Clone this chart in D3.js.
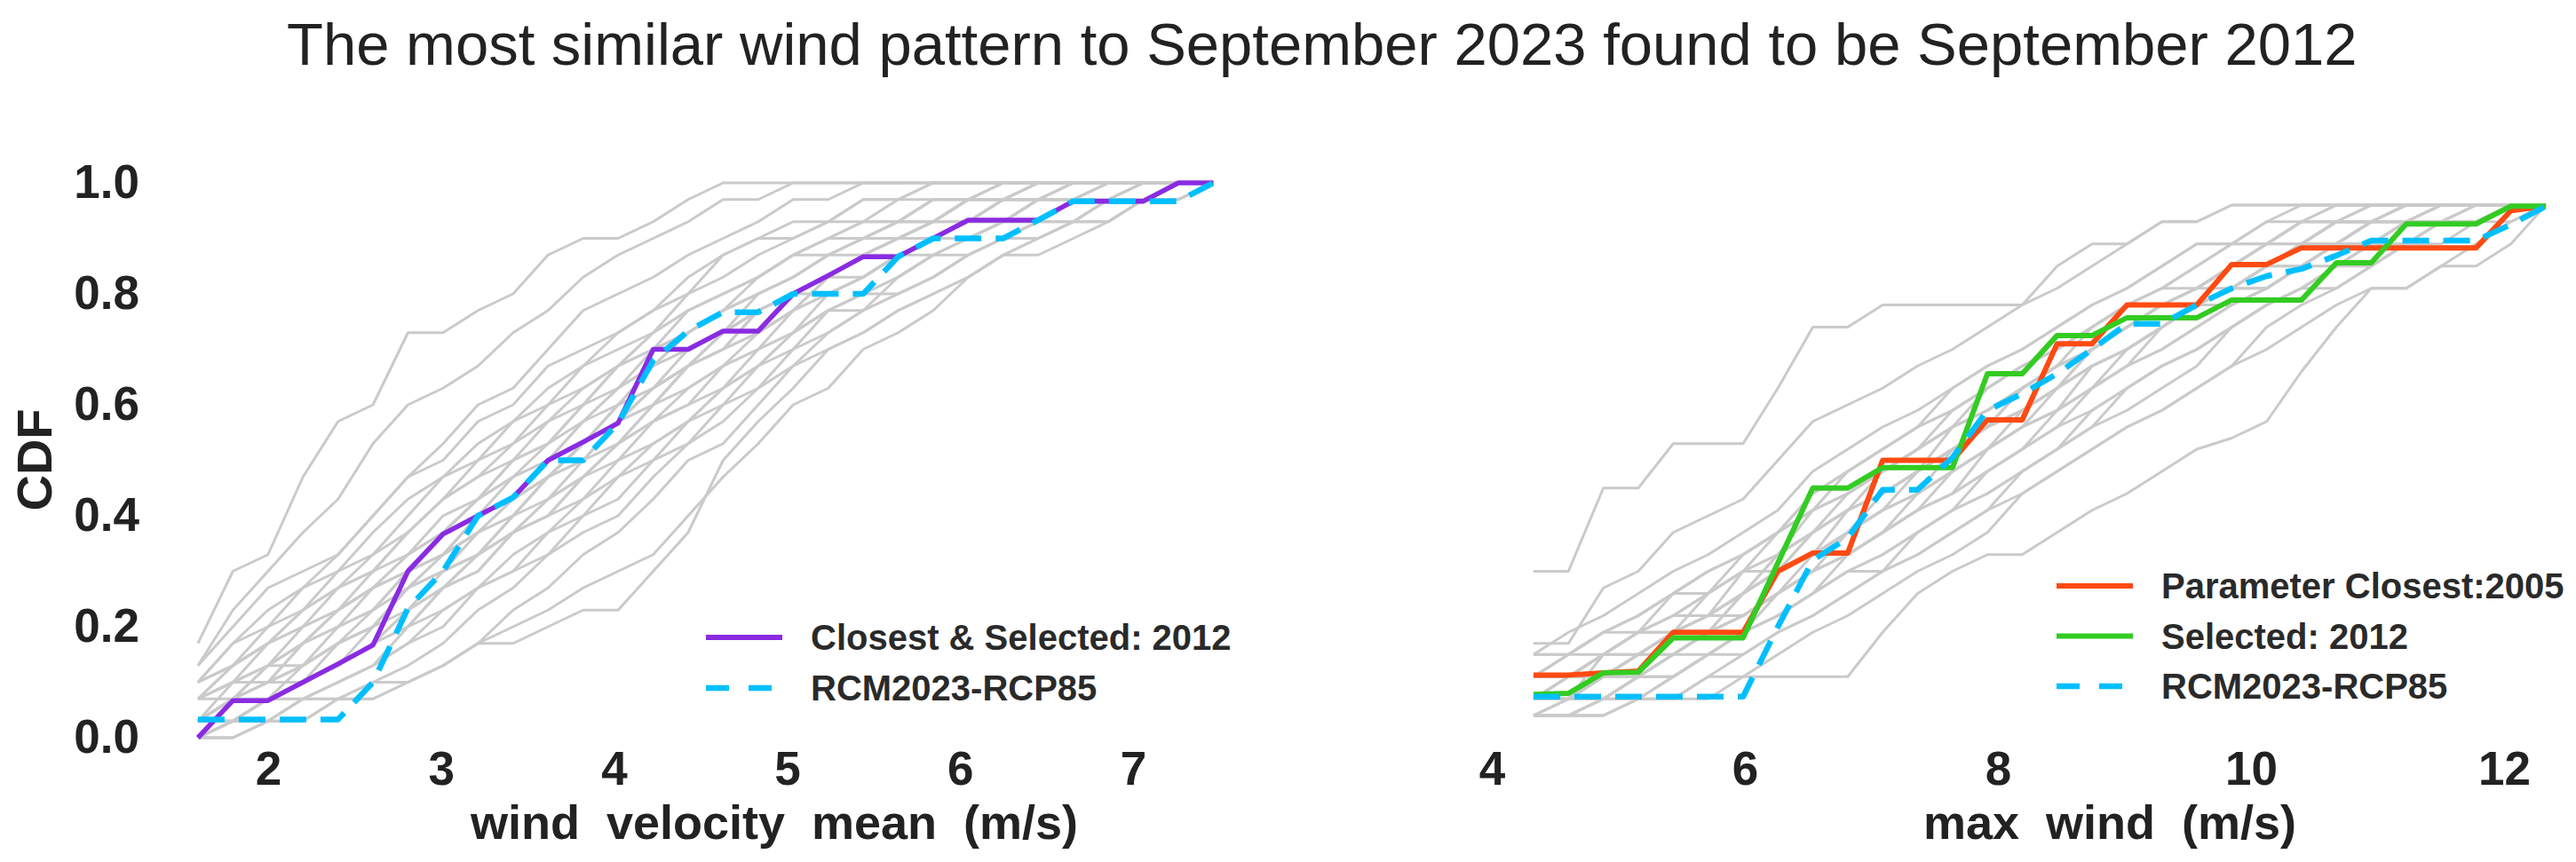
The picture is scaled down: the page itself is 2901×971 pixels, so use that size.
<!DOCTYPE html>
<html>
<head>
<meta charset="utf-8">
<script src="https://cdn.jsdelivr.net/npm/d3@7"></script>
<style>
  html, body { margin: 0; padding: 0; background: #fff; }
  svg text { font-family: "Liberation Sans", Arial, sans-serif; }
</style>
</head>
<body>
<div id="chart"></div>
<script>
const width = 2901;
const height = 971;

const TITLE = 'The most similar wind pattern to September 2023 found to be September 2012';

// x grid each CDF is evaluated on (m/s)
const leftGrid = [1.594, 1.796, 1.999, 2.201, 2.404, 2.606, 2.808, 3.011, 3.213, 3.416,
  3.618, 3.821, 4.023, 4.226, 4.428, 4.630, 4.833, 5.035, 5.238, 5.440,
  5.642, 5.845, 6.047, 6.250, 6.452, 6.655, 6.857, 7.060, 7.262, 7.464];
const rightGrid = [4.330, 4.606, 4.882, 5.158, 5.434, 5.710, 5.986, 6.261, 6.537, 6.813,
  7.089, 7.365, 7.641, 7.917, 8.192, 8.468, 8.744, 9.020, 9.296, 9.572,
  9.848, 10.124, 10.399, 10.675, 10.951, 11.227, 11.503, 11.779, 12.054, 12.330];

const leftTicks = [2, 3, 4, 5, 6, 7];
const rightTicks = [4, 6, 8, 10, 12];
const cdfTicks = [0, 0.2, 0.4, 0.6, 0.8, 1.0];

// highlighted series, left panel
const leftSelected = [0, .067, .067, .10, .133, .167, .30, .367, .40, .433, .50, .533, .567, .70, .70,
  .733, .733, .80, .833, .867, .867, .90, .933, .933, .933, .967, .967, .967, 1, 1];
const leftRcm = [.033, .033, .033, .033, .033, .10, .233, .30, .40, .433, .50, .50, .567, .68, .733,
  .767, .767, .80, .80, .80, .867, .90, .90, .90, .933, .967, .967, .967, .967, 1];

// highlighted series, right panel
const rightParam = [.113, .113, .117, .12, .19, .19, .19, .30, .333, .333, .50, .50, .50, .573, .573,
  .71, .71, .78, .78, .78, .853, .853, .883, .883, .883, .883, .883, .883, .95, .958];
const rightSelected = [.078, .08, .117, .118, .18, .18, .18, .315, .45, .45, .487, .487, .487, .656, .656,
  .725, .725, .757, .757, .757, .789, .789, .789, .856, .856, .926, .926, .926, .958, .958];
const rightRcm = [.074, .074, .074, .074, .074, .074, .074, .20, .32, .36, .447, .447, .505, .59, .62,
  .656, .70, .746, .746, .78, .81, .832, .845, .869, .896, .896, .896, .896, .925, .958];

// other years, left panel (wind velocity mean)
const leftOthers = [
  [.17,.30,.33,.47,.57,.60,.73,.73,.77,.80,.87,.90,.90,.93,.97,1,1,1,1,1,1,1,1,1,1,1,1,1,1,1],
  [.13,.23,.30,.37,.43,.53,.60,.63,.67,.73,.77,.83,.87,.90,.93,.97,.97,1,1,1,1,1,1,1,1,1,1,1,1,1],
  [.10,.17,.23,.27,.33,.40,.47,.53,.60,.63,.70,.77,.80,.83,.87,.90,.93,.97,.97,1,1,1,1,1,1,1,1,1,1,1],
  [.07,.13,.17,.23,.30,.33,.40,.47,.50,.57,.63,.67,.73,.77,.80,.87,.90,.90,.93,.97,.97,1,1,1,1,1,1,1,1,1],
  [.10,.13,.20,.23,.27,.30,.37,.43,.47,.53,.60,.63,.67,.73,.77,.80,.83,.87,.90,.93,.93,.97,.97,1,1,1,1,1,1,1],
  [.03,.10,.13,.17,.23,.27,.33,.40,.43,.50,.53,.60,.67,.70,.73,.77,.83,.87,.87,.90,.93,.93,.97,.97,1,1,1,1,1,1],
  [.07,.10,.10,.17,.20,.27,.30,.33,.40,.47,.50,.57,.63,.67,.73,.77,.80,.83,.87,.90,.90,.93,.97,.97,.97,1,1,1,1,1],
  [.03,.07,.10,.13,.17,.23,.30,.37,.40,.43,.50,.53,.60,.63,.70,.73,.77,.80,.83,.87,.90,.93,.93,.97,.97,.97,1,1,1,1],
  [.03,.03,.07,.10,.17,.20,.23,.30,.37,.40,.47,.53,.57,.63,.67,.70,.77,.80,.80,.83,.87,.90,.93,.93,.97,.97,.97,1,1,1],
  [0,.03,.07,.10,.13,.17,.20,.27,.33,.37,.43,.47,.53,.60,.63,.67,.70,.77,.80,.83,.87,.87,.90,.93,.93,.97,.97,.97,1,1],
  [.07,.10,.13,.13,.17,.20,.27,.30,.33,.37,.40,.43,.47,.53,.57,.63,.67,.73,.77,.80,.83,.87,.90,.93,.93,.97,.97,1,1,1],
  [0,.03,.03,.07,.10,.13,.17,.23,.27,.33,.37,.43,.50,.53,.57,.63,.67,.70,.77,.80,.80,.83,.87,.90,.93,.93,.97,.97,1,1],
  [.03,.03,.07,.07,.10,.13,.20,.23,.27,.30,.37,.40,.47,.50,.57,.60,.67,.73,.77,.77,.83,.87,.87,.90,.93,.97,.97,.97,.97,1],
  [0,0,.03,.07,.07,.10,.13,.17,.23,.27,.33,.37,.40,.47,.53,.57,.63,.70,.73,.77,.80,.83,.87,.90,.90,.93,.97,.97,1,1],
  [0,.03,.03,.03,.07,.10,.10,.13,.17,.23,.27,.33,.37,.43,.50,.53,.60,.67,.70,.73,.77,.80,.83,.87,.90,.93,.93,.97,.97,1],
  [0,0,.03,.03,.07,.07,.10,.13,.17,.20,.23,.27,.30,.33,.40,.47,.53,.60,.63,.70,.73,.77,.83,.87,.87,.90,.93,.97,.97,1],
  [0,0,.03,.07,.07,.07,.10,.13,.17,.17,.20,.23,.23,.30,.37,.50,.57,.63,.70,.73,.77,.80,.83,.87,.90,.93,.93,.97,.97,1],
  [.07,.13,.17,.20,.27,.33,.37,.43,.50,.53,.57,.63,.67,.73,.77,.80,.83,.87,.90,.90,.93,.93,.97,.97,1,1,1,1,1,1],
  [.10,.17,.20,.27,.30,.37,.43,.47,.53,.57,.60,.67,.70,.73,.80,.83,.87,.90,.93,.93,.97,.97,.97,1,1,1,1,1,1,1],
  [.03,.07,.13,.20,.23,.27,.30,.37,.43,.47,.53,.57,.63,.70,.73,.77,.80,.83,.87,.90,.93,.97,.97,.97,1,1,1,1,1,1],
  [.03,.07,.10,.13,.20,.23,.27,.33,.37,.43,.47,.50,.57,.63,.67,.73,.77,.80,.83,.87,.90,.90,.93,.97,.97,1,1,1,1,1],
  [.03,.03,.07,.10,.13,.17,.23,.27,.30,.37,.40,.47,.53,.57,.60,.67,.73,.77,.80,.83,.87,.90,.90,.93,.97,.97,1,1,1,1],
  [.07,.10,.17,.20,.23,.30,.33,.37,.43,.50,.53,.60,.63,.67,.73,.77,.80,.83,.87,.90,.93,.93,.97,.97,.97,1,1,1,1,1],
  [.03,.07,.10,.17,.20,.23,.30,.33,.40,.43,.47,.53,.60,.63,.67,.73,.77,.80,.83,.83,.87,.90,.93,.97,.97,1,1,1,1,1],
  [.03,.07,.07,.10,.13,.20,.27,.30,.33,.40,.47,.50,.53,.60,.67,.70,.73,.77,.83,.87,.90,.93,.93,.97,.97,.97,1,1,1,1],
  [.07,.10,.13,.17,.23,.27,.33,.37,.43,.47,.50,.57,.60,.67,.70,.73,.80,.83,.87,.87,.90,.93,.97,.97,1,1,1,1,1,1],
  [0,.03,.07,.10,.13,.17,.23,.27,.33,.40,.43,.50,.57,.60,.67,.70,.73,.77,.83,.87,.90,.90,.93,.93,.97,.97,1,1,1,1],
  [.03,.07,.10,.13,.17,.20,.27,.33,.37,.40,.47,.53,.57,.63,.67,.73,.77,.80,.83,.87,.87,.90,.93,.97,.97,.97,.97,1,1,1],
  [.10,.13,.17,.23,.27,.30,.37,.43,.47,.50,.57,.60,.67,.70,.77,.80,.83,.87,.90,.93,.93,.97,.97,1,1,1,1,1,1,1],
  [.03,.03,.07,.13,.17,.20,.27,.30,.33,.37,.43,.47,.53,.57,.63,.67,.70,.73,.77,.80,.83,.87,.90,.93,.93,.97,.97,1,1,1],
  [.13,.20,.27,.30,.33,.40,.47,.50,.57,.60,.67,.70,.73,.77,.83,.87,.90,.93,.93,.97,.97,1,1,1,1,1,1,1,1,1],
  [0,.03,.07,.07,.10,.13,.17,.20,.27,.30,.33,.40,.43,.50,.53,.60,.63,.67,.73,.77,.80,.83,.87,.90,.93,.93,.97,.97,1,1],
  [.07,.07,.13,.17,.23,.27,.30,.33,.37,.43,.47,.53,.57,.60,.67,.70,.77,.80,.83,.87,.90,.93,.97,.97,1,1,1,1,1,1],
  [.03,.07,.10,.10,.13,.17,.20,.27,.30,.37,.40,.47,.50,.57,.60,.63,.70,.73,.80,.83,.87,.90,.93,.93,.97,1,1,1,1,1]
];

// other years, right panel (max wind)
const rightOthers = [
  [.30,.30,.45,.45,.53,.53,.53,.63,.74,.74,.78,.78,.78,.78,.78,.85,.89,.89,.93,.93,.96,.96,.96,.96,.96,.96,.96,.96,.96,.96],
  [.17,.17,.27,.30,.37,.40,.43,.50,.57,.60,.63,.67,.70,.74,.78,.81,.85,.89,.93,.93,.96,.96,.96,.96,.96,.96,.96,.96,.96,.96],
  [.15,.19,.22,.26,.30,.33,.37,.41,.48,.52,.56,.59,.63,.67,.70,.74,.78,.81,.85,.89,.89,.93,.96,.96,.96,.96,.96,.96,.96,.96],
  [.11,.15,.19,.22,.26,.30,.33,.37,.44,.48,.52,.56,.59,.63,.67,.70,.74,.78,.81,.85,.89,.89,.93,.93,.96,.96,.96,.96,.96,.96],
  [.07,.11,.15,.19,.22,.26,.30,.37,.41,.44,.48,.52,.56,.63,.67,.70,.74,.78,.78,.81,.85,.89,.89,.93,.93,.96,.96,.96,.96,.96],
  [.11,.11,.15,.15,.19,.26,.30,.33,.37,.41,.44,.48,.52,.56,.63,.67,.70,.74,.78,.81,.81,.85,.89,.89,.93,.93,.96,.96,.96,.96],
  [.04,.07,.11,.15,.19,.22,.26,.30,.33,.37,.41,.48,.52,.56,.59,.63,.67,.70,.74,.78,.81,.85,.85,.89,.93,.93,.93,.96,.96,.96],
  [.07,.07,.11,.11,.15,.19,.22,.26,.30,.37,.41,.44,.48,.52,.56,.59,.63,.70,.74,.78,.81,.81,.85,.89,.89,.93,.93,.96,.96,.96],
  [.04,.04,.07,.11,.15,.15,.19,.26,.30,.33,.37,.41,.44,.48,.52,.59,.63,.67,.70,.74,.78,.81,.85,.85,.89,.93,.93,.93,.96,.96],
  [.04,.07,.07,.07,.11,.15,.19,.22,.26,.30,.33,.37,.41,.44,.48,.52,.56,.63,.67,.70,.74,.78,.81,.85,.89,.89,.93,.93,.96,.96],
  [.04,.04,.04,.07,.07,.11,.15,.19,.22,.26,.30,.33,.37,.41,.44,.48,.52,.56,.59,.63,.67,.74,.78,.81,.85,.89,.89,.93,.93,.96],
  [.04,.04,.04,.07,.07,.07,.11,.11,.11,.11,.19,.26,.30,.33,.33,.37,.41,.44,.48,.52,.54,.57,.66,.74,.81,.81,.85,.85,.89,.96],
  [.07,.11,.11,.15,.19,.22,.22,.26,.33,.37,.41,.44,.52,.56,.59,.63,.67,.70,.74,.78,.81,.85,.89,.89,.93,.93,.96,.96,.96,.96],
  [.11,.15,.15,.19,.22,.26,.30,.30,.37,.41,.48,.52,.56,.59,.63,.67,.70,.74,.78,.78,.81,.85,.89,.93,.93,.93,.96,.96,.96,.96],
  [.07,.07,.11,.15,.15,.19,.22,.26,.30,.33,.37,.41,.48,.52,.56,.63,.67,.70,.74,.78,.78,.81,.85,.89,.89,.93,.96,.96,.96,.96],
  [.04,.04,.07,.07,.11,.15,.19,.22,.26,.30,.33,.37,.41,.48,.52,.56,.59,.63,.67,.70,.74,.78,.81,.81,.85,.89,.93,.93,.96,.96],
  [.15,.15,.19,.22,.26,.30,.33,.37,.41,.44,.48,.52,.56,.59,.63,.67,.70,.74,.78,.81,.85,.89,.93,.96,.96,.96,.96,.96,.96,.96],
  [.11,.11,.15,.19,.19,.22,.26,.33,.37,.41,.44,.48,.52,.56,.59,.63,.70,.74,.78,.81,.85,.85,.89,.93,.93,.96,.96,.96,.96,.96],
  [.04,.04,.07,.07,.07,.11,.11,.15,.19,.22,.26,.30,.33,.37,.44,.48,.52,.56,.59,.63,.67,.70,.74,.78,.81,.81,.85,.89,.93,.96],
  [.07,.07,.07,.11,.11,.15,.19,.22,.26,.30,.30,.37,.41,.44,.48,.52,.59,.63,.67,.70,.74,.78,.81,.85,.85,.89,.93,.93,.96,.96],
  [.11,.11,.15,.19,.22,.22,.30,.33,.41,.44,.48,.52,.59,.63,.67,.70,.74,.78,.81,.81,.85,.89,.93,.93,.93,.96,.96,.96,.96,.96],
  [.07,.07,.15,.15,.19,.22,.26,.30,.33,.41,.44,.48,.52,.56,.63,.67,.70,.74,.78,.78,.81,.85,.89,.93,.93,.93,.96,.96,.96,.96],
  [.04,.07,.07,.11,.15,.19,.22,.26,.30,.33,.37,.44,.48,.52,.56,.59,.67,.70,.74,.78,.81,.85,.85,.89,.93,.93,.96,.96,.96,.96],
  [.15,.15,.19,.19,.26,.30,.33,.37,.41,.48,.52,.56,.59,.63,.67,.70,.74,.78,.81,.85,.89,.89,.93,.93,.96,.96,.96,.96,.96,.96],
  [.07,.11,.11,.15,.19,.19,.26,.30,.33,.37,.41,.44,.48,.52,.59,.63,.67,.70,.74,.78,.81,.85,.89,.89,.93,.96,.96,.96,.96,.96],
  [.04,.04,.07,.11,.11,.15,.19,.22,.26,.33,.37,.41,.44,.48,.52,.56,.63,.67,.70,.74,.78,.81,.85,.89,.89,.93,.93,.96,.96,.96],
  [.11,.15,.19,.22,.26,.26,.33,.37,.44,.48,.52,.56,.63,.67,.70,.74,.78,.81,.85,.89,.89,.93,.93,.96,.96,.96,.96,.96,.96,.96],
  [.07,.07,.11,.11,.15,.19,.22,.26,.30,.33,.37,.41,.44,.52,.56,.59,.63,.67,.74,.78,.81,.81,.85,.89,.93,.93,.93,.96,.96,.96],
  [.04,.07,.11,.15,.15,.19,.26,.30,.33,.37,.44,.48,.52,.56,.59,.63,.70,.74,.78,.81,.85,.89,.89,.93,.93,.96,.96,.96,.96,.96],
  [.11,.11,.11,.15,.19,.22,.26,.30,.37,.41,.44,.48,.56,.59,.63,.67,.70,.74,.78,.81,.85,.85,.89,.93,.93,.96,.96,.96,.96,.96],
  [.04,.04,.04,.07,.11,.15,.15,.19,.22,.26,.30,.33,.37,.41,.48,.52,.56,.59,.63,.67,.74,.78,.81,.85,.89,.89,.93,.93,.96,.96],
  [.07,.11,.15,.19,.19,.22,.26,.33,.37,.44,.48,.52,.56,.59,.63,.67,.74,.78,.78,.81,.85,.89,.93,.93,.96,.96,.96,.96,.96,.96]
];

const leftLegend = ['Closest & Selected: 2012', 'RCM2023-RCP85'];
const rightLegend = ['Parameter Closest:2005', 'Selected: 2012', 'RCM2023-RCP85'];

const GREY = '#cacaca';
const PURPLE = '#8a2be2';
const ORANGE = '#ff4a12';
const GREEN = '#33cc22';
const SKY = '#00bfff';
const TEXT = '#222';
const DASH = '30,16';

const svg = d3.select('#chart')
  .append('svg')
    .attr('width', width)
    .attr('height', height)
    .style('background', '#fff');

const y = d3.scaleLinear().domain([0, 1]).range([831, 206]);
const xLeft = d3.scaleLinear().domain([2, 7]).range([302, 1276]);
const xRight = d3.scaleLinear().domain([4, 12]).range([1680, 2820]);

// title
svg.append('text')
  .attr('x', 323)
  .attr('y', 73)
  .attr('font-size', 67)
  .attr('fill', TEXT)
  .text(TITLE);

function drawPanel(grid, xScale, others, series) {
  const line = d3.line()
    .x((d, i) => xScale(grid[i]))
    .y((d) => y(d));
  const g = svg.append('g');
  g.append('g')
    .selectAll('path')
    .data(others)
    .enter().append('path')
      .attr('d', line)
      .attr('fill', 'none')
      .attr('stroke', GREY)
      .attr('stroke-width', 3)
      .attr('stroke-linejoin', 'round');
  series.forEach((s) => {
    g.append('path')
      .datum(s.values)
      .attr('d', line)
      .attr('fill', 'none')
      .attr('stroke', s.color)
      .attr('stroke-width', s.width)
      .attr('stroke-linejoin', 'round')
      .attr('stroke-dasharray', s.dash || null);
  });
}

function drawLegend(x, y0, step, items) {
  const g = svg.append('g');
  items.forEach((s, i) => {
    let ly = y0 + i * step;
    g.append('line')
      .attr('x1', x)
      .attr('x2', x + 86)
      .attr('y1', ly)
      .attr('y2', ly)
      .attr('stroke', s.color)
      .attr('stroke-width', s.width)
      .attr('stroke-dasharray', s.dash || null);
    g.append('text')
      .attr('x', x + 118)
      .attr('y', ly + 14)
      .attr('font-size', 40)
      .attr('font-weight', 'bold')
      .attr('fill', '#2a2a2a')
      .text(s.label);
  });
}

function xAxis(xScale, ticks, title, titleX) {
  const ax = svg.append('g')
    .attr('transform', 'translate(0,843)')
    .call(d3.axisBottom(xScale).tickValues(ticks).tickSize(0).tickPadding(3).tickFormat(d3.format('d')));
  ax.select('.domain').remove();
  ax.selectAll('.tick text')
    .attr('font-size', 53)
    .attr('font-weight', 'bold')
    .attr('font-family', '"Liberation Sans", Arial, sans-serif')
    .attr('fill', TEXT);
  svg.append('text')
    .attr('x', titleX)
    .attr('y', 945)
    .attr('text-anchor', 'middle')
    .attr('font-size', 54)
    .attr('font-weight', 'bold')
    .attr('fill', TEXT)
    .style('white-space', 'pre')
    .text(title);
}

drawPanel(leftGrid, xLeft, leftOthers, [
  {values: leftSelected, color: PURPLE, width: 5.5},
  {values: leftRcm, color: SKY, width: 6.5, dash: DASH}
]);
drawPanel(rightGrid, xRight, rightOthers, [
  {values: rightParam, color: ORANGE, width: 6},
  {values: rightSelected, color: GREEN, width: 6},
  {values: rightRcm, color: SKY, width: 6.5, dash: DASH}
]);

drawLegend(795, 718, 57, [
  {label: leftLegend[0], color: PURPLE, width: 6},
  {label: leftLegend[1], color: SKY, width: 6.5, dash: '26,22'}
]);
drawLegend(2316, 660, 56.5, [
  {label: rightLegend[0], color: ORANGE, width: 6},
  {label: rightLegend[1], color: GREEN, width: 6},
  {label: rightLegend[2], color: SKY, width: 6.5, dash: '26,22'}
]);

xAxis(xLeft, leftTicks, 'wind  velocity  mean  (m/s)', 872);
xAxis(xRight, rightTicks, 'max  wind  (m/s)', 2376);

// y axis, left panel only
const yAx = svg.append('g')
  .attr('transform', 'translate(160,0)')
  .call(d3.axisLeft(y).tickValues(cdfTicks).tickSize(0).tickPadding(3).tickFormat(d3.format('.1f')));
yAx.select('.domain').remove();
yAx.selectAll('.tick text')
  .attr('font-size', 53)
  .attr('font-weight', 'bold')
  .attr('font-family', '"Liberation Sans", Arial, sans-serif')
  .attr('fill', TEXT);

svg.append('text')
  .attr('transform', 'translate(58,518) rotate(-90)')
  .attr('text-anchor', 'middle')
  .attr('font-size', 56)
  .attr('font-weight', 'bold')
  .attr('fill', TEXT)
  .text('CDF');
</script>
</body>
</html>
